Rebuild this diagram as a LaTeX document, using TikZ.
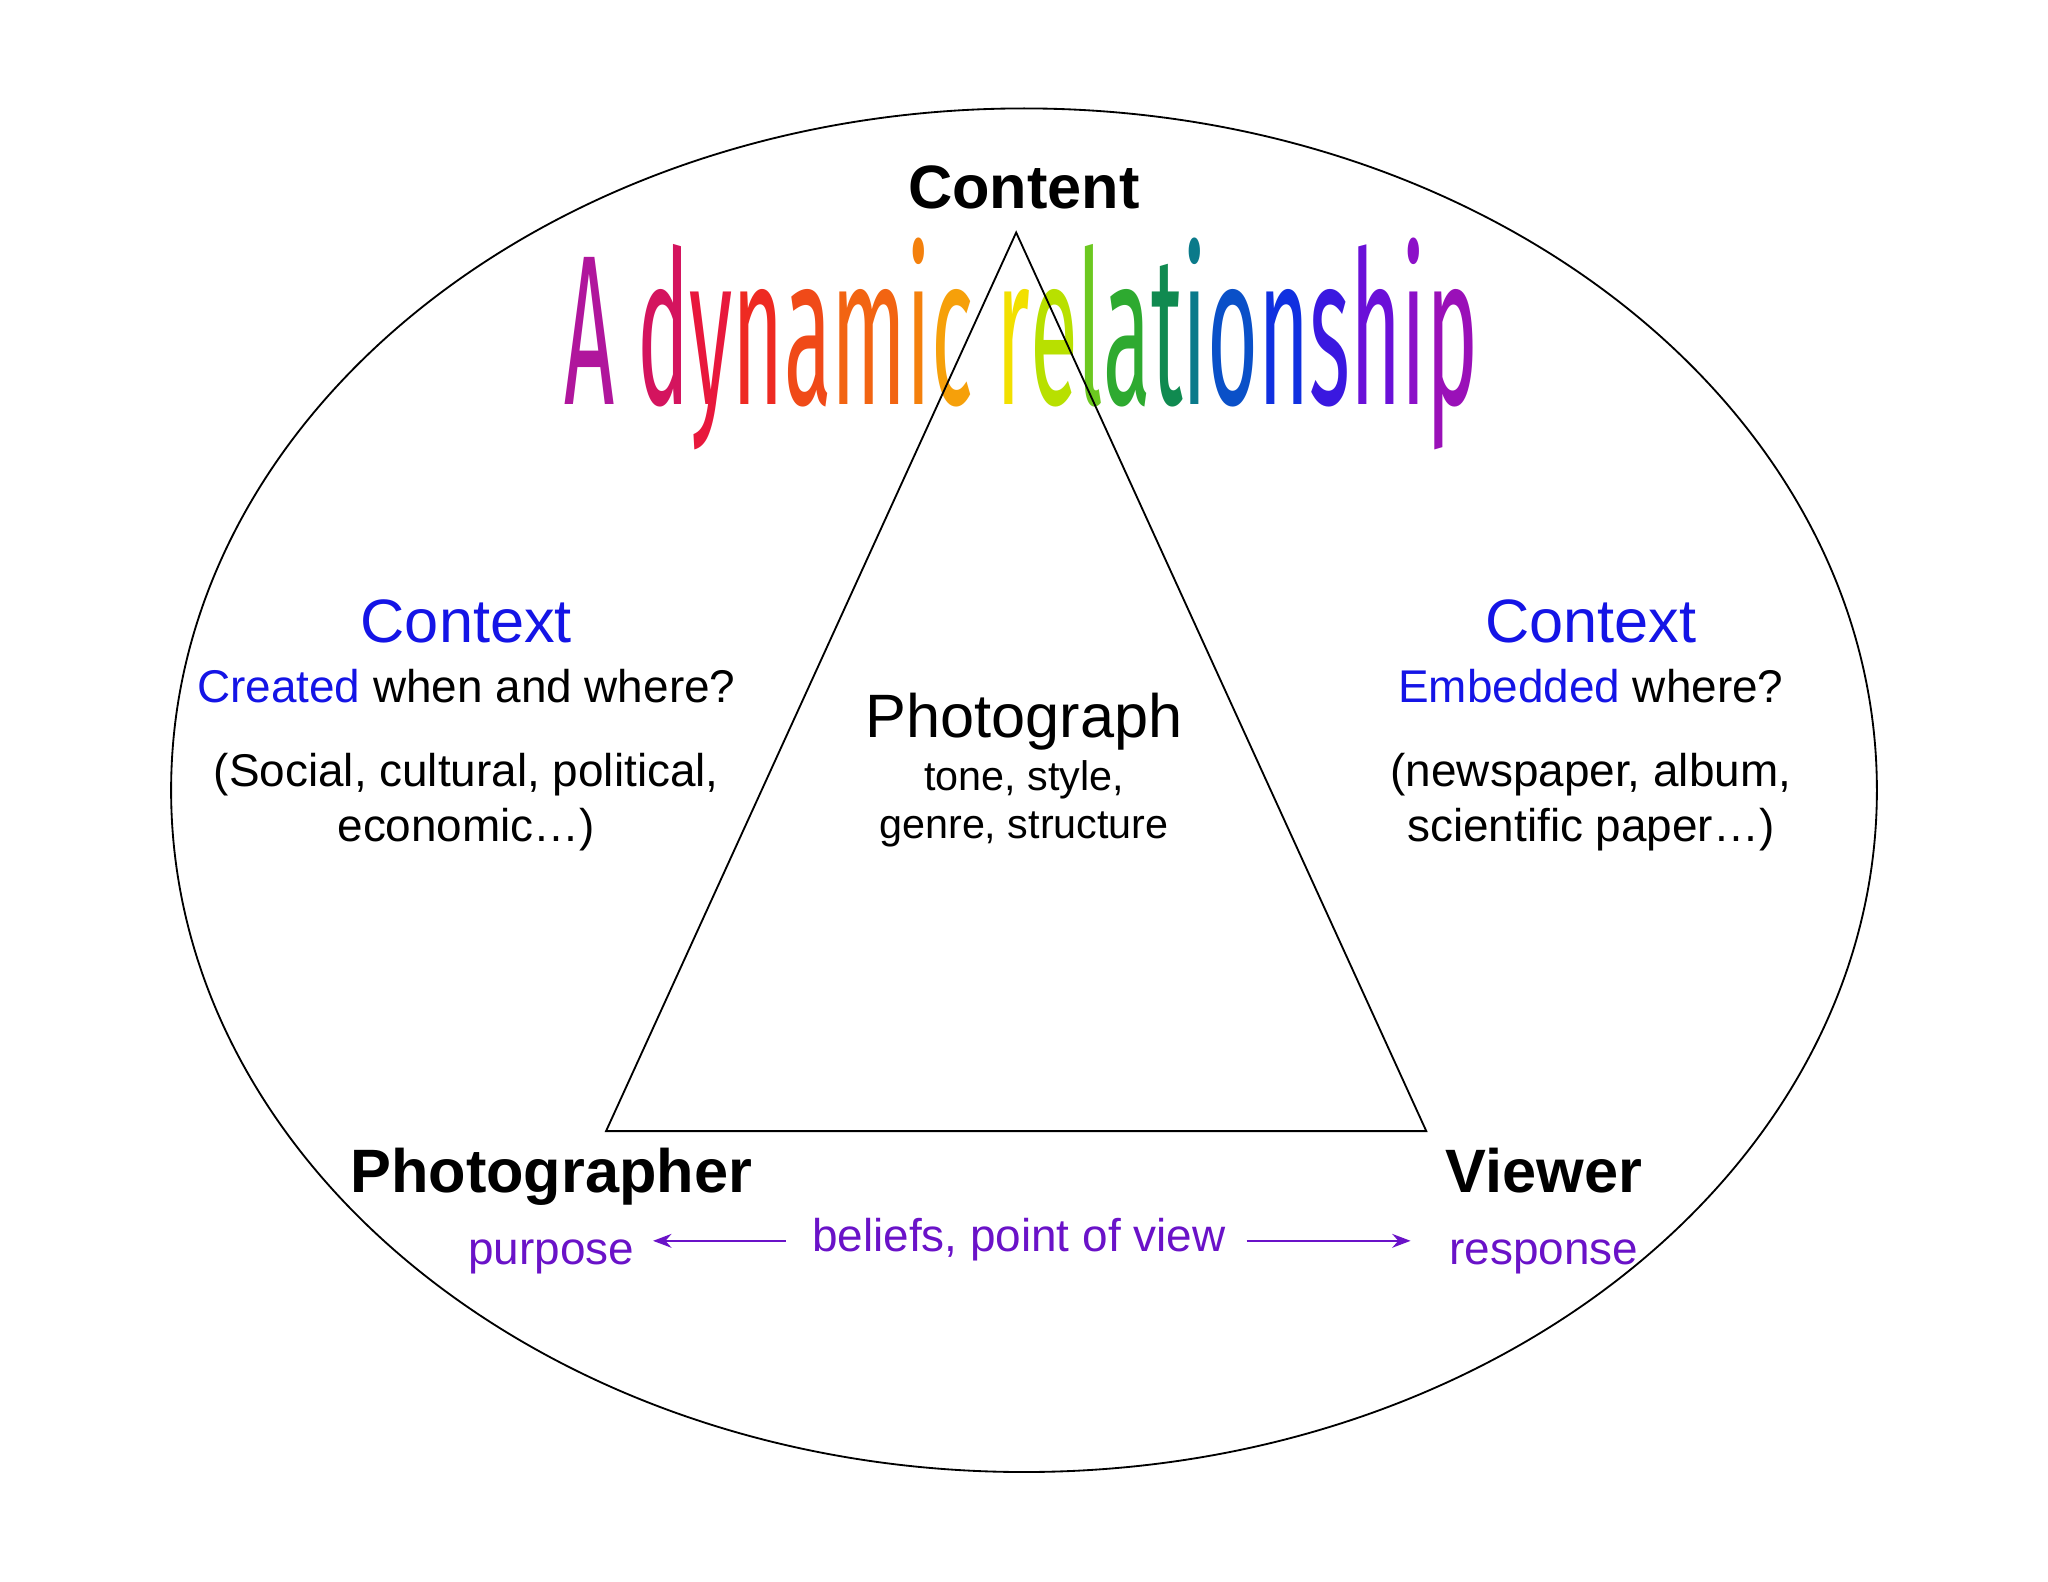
\documentclass[tikz,border=0pt]{standalone}
\usepackage{fontspec}
\setmainfont{Liberation Sans}
\newfontfamily\titlefont{Fira Sans}
\usetikzlibrary{arrows.meta}
\definecolor{ctxblue}{HTML}{1414E6}
\definecolor{purp}{HTML}{6A12C8}
\newcommand{\cl}[2]{\textcolor[HTML]{#1}{#2}}
\begin{document}
\begin{tikzpicture}[x=0.02cm,y=-0.02cm,
  big/.style={font=\fontsize{26.7}{30}\selectfont,anchor=base},
  bigb/.style={font=\fontsize{26.7}{30}\selectfont\bfseries,anchor=base},
  mid/.style={font=\fontsize{20}{24}\selectfont,anchor=base},
  sml/.style={font=\fontsize{18}{22}\selectfont,anchor=base},
  conn/.style={purp,line width=1pt,-{Stealth[length=8pt,width=6pt]}}]
\useasboundingbox (0,0) rectangle (1568,1211);
\fill[white] (0,0) rectangle (1568,1211);
\draw[line width=0.8pt] (784,605) ellipse [x radius=653, y radius=522];
\node[inner sep=0,anchor=base] (title) at (782,310) {\resizebox{14cm}{2.55cm}{\titlefont
 \cl{B0169C}{A} \cl{D4145E}{d}\cl{E8183C}{y}\cl{EE2A22}{n}\cl{F04A18}{a}\cl{F26412}{m}\cl{F4800C}{i}\cl{F6A00A}{c} \cl{F2E000}{r}\cl{B8E000}{e}\cl{6CC820}{l}\cl{2EAA30}{a}\cl{108A50}{t}\cl{0A7A8A}{i}\cl{0A50C8}{o}\cl{1030E0}{n}\cl{3A18E0}{s}\cl{6A10D8}{h}\cl{8C10C8}{i}\cl{9A10B8}{p}}};
\draw[line width=0.8pt] (778,178) -- (464,866) -- (1092,866) -- cycle;
\node[bigb] (content) at (784,160) {Content};
\node[big,text=ctxblue] (ctxl) at (357,492) {Context};
\node[mid] (createdl) at (357,538) {\textcolor{ctxblue}{Created} when and where?};
\node[mid] (socl) at (357,602) {(Social, cultural, political,};
\node[mid] (ecol) at (357,644) {economic…)};
\node[big,text=ctxblue] (ctxr) at (1218,492) {Context};
\node[mid] (embr) at (1218,538) {\textcolor{ctxblue}{Embedded} where?};
\node[mid] (newsr) at (1218,602) {(newspaper, album,};
\node[mid] (scir) at (1218,644) {scientific paper…)};
\node[big] (photo) at (784,565) {Photograph};
\node[sml] (tone) at (784,605) {tone, style,};
\node[sml] (genre) at (784,642) {genre, structure};
\node[bigb] (pher) at (422,913) {Photographer};
\node[bigb] (viewer) at (1182,913) {Viewer};
\node[mid,text=purp] (purpose) at (422,968) {purpose};
\node[mid,text=purp] (response) at (1182,968) {response};
\node[mid,text=purp] (beliefs) at (780,958) {beliefs, point of view};
\coordinate (la) at (500,950);
\coordinate (ra) at (1080,950);
\draw[conn] (beliefs.west |- la) ++(-14,0) -- (la);
\draw[conn] (beliefs.east |- ra) ++(10,0) -- (ra);
\end{tikzpicture}
\end{document}
